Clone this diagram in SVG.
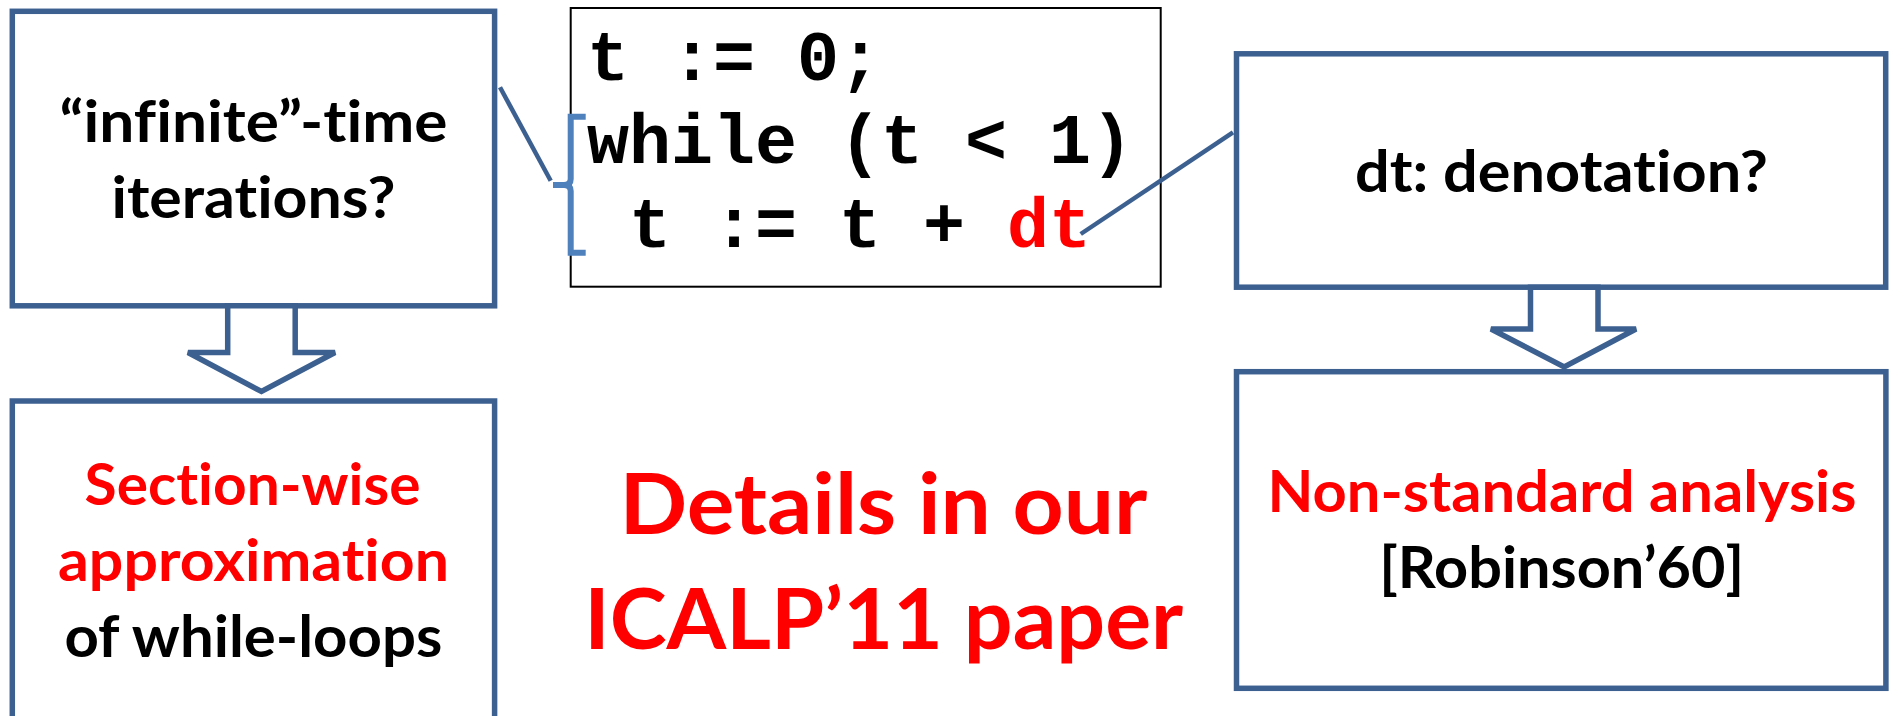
<svg xmlns="http://www.w3.org/2000/svg" width="1891" height="716" viewBox="0 0 1891 716">
  <style>
    .box { fill: #ffffff; stroke: #3C6090; stroke-width: 5.5; }
    .code-box { fill: #ffffff; stroke: #000000; stroke-width: 2; }
    .lbl { font-family: Lato, "Open Sans", "Liberation Sans", sans-serif; font-weight: 700; font-size: 58px; text-anchor: middle; font-variant-ligatures: none; }
    .big { font-family: Lato, "Open Sans", "Liberation Sans", sans-serif; font-weight: 700; font-size: 85px; text-anchor: middle; fill: #FF0000; font-variant-ligatures: none; }
    .code { font-family: "Liberation Mono", "DejaVu Sans Mono", monospace; font-weight: 700; font-size: 70px; fill: #000000; }
    .red { fill: #FF0000; }
    .blk { fill: #000000; }
    .conn { fill: none; stroke: #3C6090; stroke-width: 4.5; }
    .brace { fill: none; stroke: #4F81BD; stroke-width: 6; }
    .barrow { fill: #ffffff; stroke: #3C6090; stroke-width: 5.5; stroke-linejoin: miter; }
  </style>

  <g id="node-infinite">
    <rect class="box" x="12.3" y="11.3" width="482.3" height="294.5"/>
    <text class="lbl blk" x="253.5" y="141.7" textLength="388" lengthAdjust="spacingAndGlyphs">“infinite”-time</text>
    <text class="lbl blk" x="253.5" y="218" textLength="284" lengthAdjust="spacingAndGlyphs">iterations?</text>
  </g>

  <g id="node-section">
    <rect class="box" x="12.3" y="401" width="482.3" height="318"/>
    <text class="lbl red" x="252.6" y="505" textLength="336" lengthAdjust="spacingAndGlyphs">Section-wise</text>
    <text class="lbl red" x="253.5" y="581" textLength="391" lengthAdjust="spacingAndGlyphs">approximation</text>
    <text class="lbl blk" x="253.4" y="656.7" textLength="378" lengthAdjust="spacingAndGlyphs">of while-loops</text>
  </g>

  <g id="node-code">
    <rect class="code-box" x="570.7" y="8" width="590" height="278.7"/>
    <text class="code" x="587" y="80">t := 0;</text>
    <text class="code" x="587" y="163">while (t &lt; 1)</text>
    <text class="code" x="629" y="246.7">t := t + <tspan class="red">dt</tspan></text>
  </g>

  <g id="node-denotation">
    <rect class="box" x="1236.5" y="53.8" width="649.2" height="233.4"/>
    <text class="lbl blk" x="1561.4" y="191.7" textLength="413" lengthAdjust="spacingAndGlyphs">dt: denotation?</text>
  </g>

  <g id="node-nonstandard">
    <rect class="box" x="1236.5" y="371.7" width="649.4" height="316.6"/>
    <text class="lbl red" x="1562" y="511.7" textLength="589" lengthAdjust="spacingAndGlyphs">Non-standard analysis</text>
    <text class="lbl blk" x="1561.7" y="588.3" textLength="365" lengthAdjust="spacingAndGlyphs">[Robinson’60]</text>
  </g>

  <g id="node-details">
    <text class="big" x="883.4" y="534.3" textLength="528" lengthAdjust="spacingAndGlyphs">Details in our</text>
    <text class="big" x="883.7" y="649.3" textLength="599" lengthAdjust="spacingAndGlyphs">ICALP’11 paper</text>
  </g>

  <g id="connectors">
    <line class="conn" x1="500" y1="87.3" x2="550.7" y2="180.7"/>
    <line class="conn" x1="1080.7" y1="234" x2="1233" y2="132.3"/>
    <path class="brace" d="M585.7,116.7 L570.7,116.7 L570.7,179 Q570.7,185 564,185 L553,185 M564,185 Q570.7,185 570.7,191 L570.7,252.7 L585.7,252.7"/>
    <polygon class="barrow" points="227.7,305.8 227.7,352.5 188,352.5 261.5,391.5 335,352.5 295.2,352.5 295.2,305.8"/>
    <polygon class="barrow" points="1530.5,287.2 1530.5,329 1491,329 1564.2,367 1636,329 1598,329 1598,287.2"/>
  </g>
</svg>
